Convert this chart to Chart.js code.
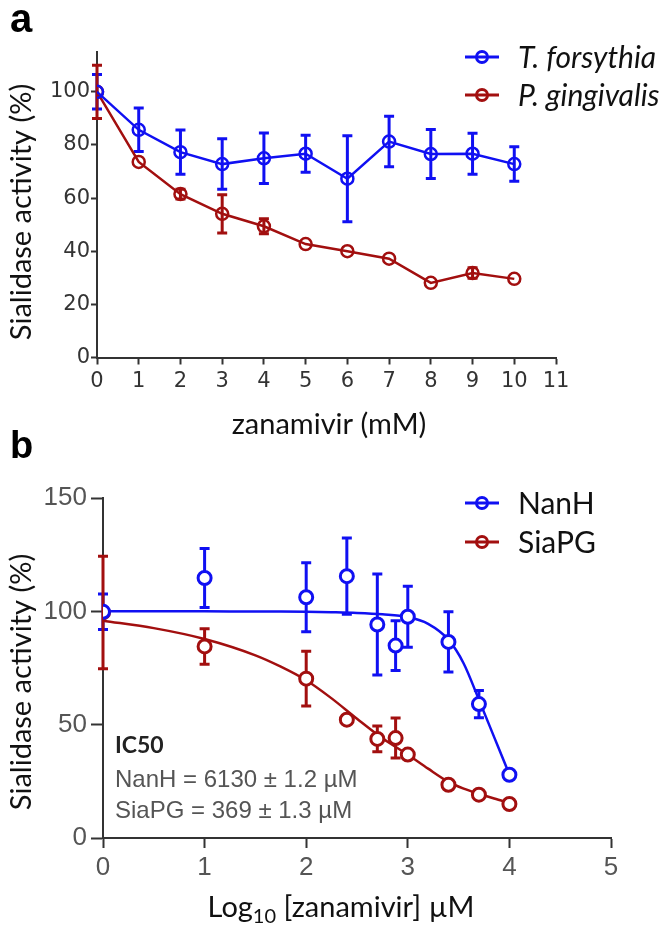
<!DOCTYPE html>
<html lang="en">
<head>
<meta charset="UTF-8">
<title>Sialidase activity vs zanamivir</title>
<script src="https://cdn.jsdelivr.net/npm/chart.js@4.4.1/dist/chart.umd.min.js"></script>
<style>
    body { margin: 0; background: #fff; }
    .wrap { position: relative; width: 669px; height: 932px; }
    canvas { position: absolute; left: 0; }
    #chartA { top: 0; }
    #chartB { top: 460px; }
    .panel { position: absolute; left: 10px; font-family: "Liberation Sans", Arial, sans-serif; font-weight: bold; line-height: 1; color: #000; }
</style>
</head>
<body>
<div class="wrap">
    <canvas id="chartA" width="669" height="460"></canvas>
    <canvas id="chartB" width="669" height="472"></canvas>
    <div class="panel" style="top:-2px;font-size:40px">a</div>
    <div class="panel" style="top:426px;font-size:38px">b</div>
</div>

<script>
// ---- panel a : zanamivir (mM) ----
const doseA = [0, 1, 2, 3, 4, 5, 6, 7, 8, 9, 10];
const forsythiaY   = [100, 85.7, 77.3, 72.8, 75.0, 76.7, 67.3, 81.3, 76.6, 76.7, 72.8];
const forsythiaErr = [6.5, 8.2, 8.3, 9.5, 9.5, 7.0, 16.2, 9.5, 9.2, 7.7, 6.5];
const gingivalisY   = [100, 73.6, 61.5, 54.1, 49.4, 42.7, 40.0, 37.2, 28.1, 31.8, 29.6];
const gingivalisErr = [10, 0, 1.8, 7.2, 2.8, 0, 0, 0, 0, 2, 0];
const yTicksA = [0, 20, 40, 60, 80, 100];

// ---- panel b : log10 [zanamivir] uM ----
const logDoseB = [0, 1, 2, 2.4, 2.7, 2.88, 3, 3.4, 3.7, 4];
const nanhY   = [99.8, 114.7, 106.2, 115.5, 94.2, 84.9, 97.6, 86.5, 59.1, 27.9];
const nanhErr = [7.8, 13, 15.2, 16.8, 22.3, 11, 13.5, 13.3, 6, 0];
const siapgY   = [99.5, 84.5, 70.3, 52.2, 43.7, 44.1, 36.8, 23.5, 19.1, 15.0];
const siapgErr = [24.8, 7.8, 12.1, 0, 5.7, 8.8, 0, 0, 0, 0];
// fitted curves
const fitX     = [0, 0.5, 1, 1.5, 1.75, 2, 2.25, 2.5, 2.75, 3, 3.2, 3.4, 3.55, 3.7, 3.85, 4];
const nanhFit  = [100, 100, 100, 99.9, 99.9, 99.8, 99.6, 99.3, 98.7, 97.5, 94.5, 87.5, 77, 61, 44.5, 28];
const siapgFit = [95.9, 92.6, 87.8, 80.6, 75.6, 69.6, 61.6, 52.6, 44, 36.8, 30.6, 24.8, 21.8, 19.5, 17.4, 15.5];
const yTicksB = [0, 50, 100, 150];

const blue = '#1010f2';
const red = '#a20f0f';

function pts(xs, ys) {
    return xs.map((x, i) => ({x: x, y: ys[i]}));
}

const errorBars = {
    id: 'errorBars',
    beforeDatasetsDraw(chart, args, opts) {
        const ctx = chart.ctx;
        const ys = chart.scales.y;
        chart.data.datasets.forEach((ds, i) => {
            if (!ds.errors) return;
            const meta = chart.getDatasetMeta(i);
            ctx.save();
            ctx.strokeStyle = ds.borderColor;
            ctx.lineWidth = opts.width;
            meta.data.forEach((pt, j) => {
                const e = ds.errors[j];
                if (!e) return;
                const v = ds.data[j].y;
                const top = ys.getPixelForValue(v + e);
                const bot = ys.getPixelForValue(v - e);
                ctx.beginPath();
                ctx.moveTo(pt.x, top); ctx.lineTo(pt.x, bot);
                ctx.moveTo(pt.x - opts.cap, top); ctx.lineTo(pt.x + opts.cap, top);
                ctx.moveTo(pt.x - opts.cap, bot); ctx.lineTo(pt.x + opts.cap, bot);
                ctx.stroke();
            });
            ctx.restore();
        });
    }
};

// legend, axis titles and notes
const extras = {
    id: 'extras',
    afterDraw(chart, args, opts) {
        const ctx = chart.ctx;
        ctx.save();
        (opts.legend || []).forEach(it => {
            ctx.strokeStyle = it.color;
            ctx.lineWidth = 3;
            ctx.beginPath();
            ctx.moveTo(465, it.y); ctx.lineTo(499, it.y);
            ctx.stroke();
            ctx.beginPath();
            ctx.arc(482, it.y, 5.5, 0, Math.PI * 2);
            ctx.stroke();
            ctx.fillStyle = '#111';
            ctx.font = it.font;
            ctx.textAlign = 'left';
            ctx.textBaseline = 'middle';
            ctx.fillText(it.label, 518, it.y + 1);
        });
        (opts.texts || []).forEach(t => {
            ctx.save();
            ctx.translate(t.x, t.y);
            if (t.rotate) ctx.rotate(t.rotate);
            ctx.fillStyle = t.color || '#111';
            ctx.font = t.font;
            ctx.textAlign = t.align || 'left';
            ctx.textBaseline = t.baseline || 'alphabetic';
            ctx.fillText(t.text, 0, 0);
            ctx.restore();
        });
        if (opts.logTitle) {
            const lt = opts.logTitle;
            const big = '29px Lato, sans-serif';
            const small = '20px Lato, sans-serif';
            ctx.fillStyle = '#111';
            ctx.textBaseline = 'alphabetic';
            ctx.textAlign = 'left';
            ctx.font = big;
            const w1 = ctx.measureText('Log').width;
            const w3 = ctx.measureText(' [zanamivir] µM').width;
            ctx.font = small;
            const w2 = ctx.measureText('10').width;
            let x = lt.cx - (w1 + w2 + w3) / 2;
            ctx.font = big;
            ctx.fillText('Log', x, lt.y);
            x += w1;
            ctx.font = small;
            ctx.fillText('10', x, lt.y + 6);
            x += w2;
            ctx.font = big;
            ctx.fillText(' [zanamivir] µM', x, lt.y);
        }
        ctx.restore();
    }
};

function axis(min, max, tickLen, font, color, pad) {
    return {
        type: 'linear',
        min: min,
        max: max,
        border: {display: true, color: '#333', width: 2},
        grid: {display: true, drawOnChartArea: false, drawTicks: true, tickLength: tickLen, tickWidth: 2, tickColor: '#333'},
        ticks: {font: font, color: color, padding: pad}
    };
}

// ---------- chart a ----------
const tickFontA = {family: '"DejaVu Sans", sans-serif', size: 21};
const xA = axis(0, 11, 7, tickFontA, '#333', 4);
xA.ticks.stepSize = 1;
xA.afterFit = s => { s.height = 102.5; };
const yA = axis(0, 115, 6, tickFontA, '#333', 1);
yA.afterBuildTicks = s => { s.ticks = yTicksA.map(v => ({value: v})); };
yA.afterFit = s => { s.width = 97; };

new Chart(document.getElementById('chartA'), {
    type: 'line',
    data: {
        datasets: [{
            label: 'T. forsythia',
            data: pts(doseA, forsythiaY),
            errors: forsythiaErr,
            borderColor: blue,
            borderWidth: 2.5,
            pointRadius: 6,
            pointBorderWidth: 2.5,
            pointBackgroundColor: 'rgba(255,255,255,0)',
            pointBorderColor: blue
        }, {
            label: 'P. gingivalis',
            data: pts(doseA, gingivalisY),
            errors: gingivalisErr,
            borderColor: red,
            borderWidth: 2.5,
            pointRadius: 6,
            pointBorderWidth: 2.5,
            pointBackgroundColor: 'rgba(255,255,255,0)',
            pointBorderColor: red
        }]
    },
    options: {
        responsive: false,
        animation: false,
        events: [],
        layout: {padding: {left: 0, top: 52, right: 113, bottom: 0}},
        scales: {x: xA, y: yA},
        plugins: {
            legend: {display: false},
            tooltip: {enabled: false},
            errorBars: {width: 3, cap: 5},
            extras: {
                legend: [
                    {label: 'T. forsythia', color: blue, y: 57, font: 'italic 30px Lato, sans-serif'},
                    {label: 'P. gingivalis', color: red, y: 95, font: 'italic 30px Lato, sans-serif'}
                ],
                texts: [
                    {text: 'zanamivir (mM)', x: 329, y: 434, align: 'center', font: '29px Lato, sans-serif'},
                    {text: 'Sialidase activity (%)', x: 22, y: 212, rotate: -Math.PI / 2, align: 'center', baseline: 'middle', font: '29px Lato, sans-serif'}
                ]
            }
        }
    },
    plugins: [errorBars, extras]
});

// ---------- chart b ----------
const tickFontB = {family: '"Liberation Sans", Arial, sans-serif', size: 26};
const xB = axis(0, 5, 10, tickFontB, '#555', 4);
xB.ticks.stepSize = 1;
xB.afterFit = s => { s.height = 94; };
const yB = axis(0, 150, 12, tickFontB, '#555', 4);
yB.afterBuildTicks = s => { s.ticks = yTicksB.map(v => ({value: v})); };
yB.afterFit = s => { s.width = 103; };

const pointStyle = color => ({
    showLine: false,
    borderColor: color,
    pointRadius: 6.5,
    pointBorderWidth: 3,
    pointBackgroundColor: '#fff',
    pointBorderColor: color
});
const fitStyle = color => ({
    borderColor: color,
    borderWidth: 2.5,
    pointRadius: 0,
    cubicInterpolationMode: 'monotone'
});

new Chart(document.getElementById('chartB'), {
    type: 'line',
    data: {
        datasets: [
            Object.assign({label: 'NanH', data: pts(logDoseB, nanhY), errors: nanhErr}, pointStyle(blue)),
            Object.assign({label: 'SiaPG', data: pts(logDoseB, siapgY), errors: siapgErr}, pointStyle(red)),
            Object.assign({label: 'NanH fit', data: pts(fitX, nanhFit)}, fitStyle(blue)),
            Object.assign({label: 'SiaPG fit', data: pts(fitX, siapgFit)}, fitStyle(red))
        ]
    },
    options: {
        responsive: false,
        animation: false,
        events: [],
        layout: {padding: {left: 0, top: 38, right: 58, bottom: 0}},
        scales: {x: xB, y: yB},
        plugins: {
            legend: {display: false},
            tooltip: {enabled: false},
            errorBars: {width: 3, cap: 5},
            extras: {
                legend: [
                    {label: 'NanH', color: blue, y: 43, font: '30px Lato, sans-serif'},
                    {label: 'SiaPG', color: red, y: 82, font: '30px Lato, sans-serif'}
                ],
                texts: [
                    {text: 'Sialidase activity (%)', x: 22, y: 222, rotate: -Math.PI / 2, align: 'center', baseline: 'middle', font: '29px Lato, sans-serif'},
                    {text: 'IC50', x: 115, y: 293, font: 'bold 23px Lato, sans-serif', color: '#222'},
                    {text: 'NanH = 6130 ± 1.2 µM', x: 115, y: 327, font: '24px "Liberation Sans", Arial, sans-serif', color: '#555'},
                    {text: 'SiaPG = 369 ± 1.3 µM', x: 115, y: 358, font: '24px "Liberation Sans", Arial, sans-serif', color: '#555'}
                ],
                logTitle: {cx: 341, y: 457}
            }
        }
    },
    plugins: [errorBars, extras]
});
</script>
</body>
</html>
